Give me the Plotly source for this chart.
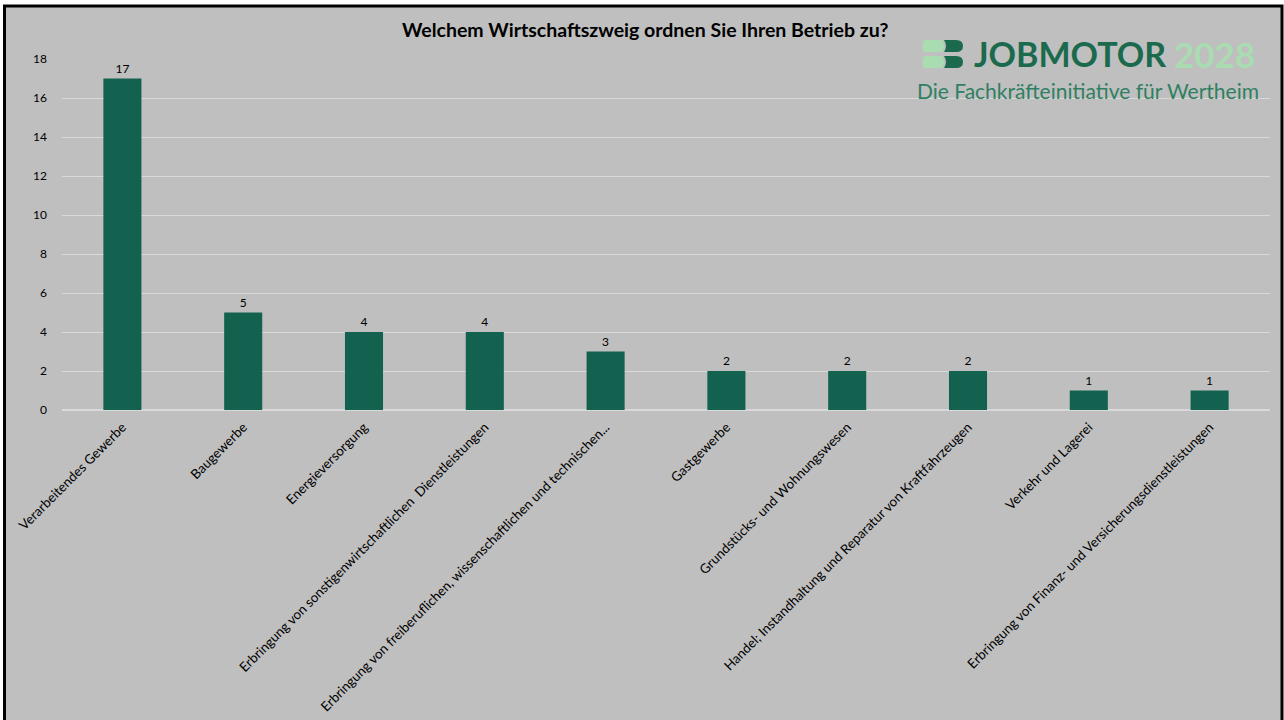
import plotly.graph_objects as go

categories = [
    "Verarbeitendes Gewerbe",
    "Baugewerbe",
    "Energieversorgung",
    "Erbringung von sonstigenwirtschaftlichen  Dienstleistungen",
    "Erbringung von freiberuflichen, wissenschaftlichen und technischen...",
    "Gastgewerbe",
    "Grundstücks- und Wohnungswesen",
    "Handel; Instandhaltung und Reparatur von Kraftfahrzeugen",
    "Verkehr und Lagerei",
    "Erbringung von Finanz- und Versicherungsdienstleistungen",
]
values = [17, 5, 4, 4, 3, 2, 2, 2, 1, 1]
y_ticks = [0, 2, 4, 6, 8, 10, 12, 14, 16, 18]

W, H = 1284, 720
L, R, T, B = 62, 1270, 59, 410

def px(x):
    return (x - L) / (R - L)

def py(y):
    return (B - y) / (B - T)

FONT = "Lato"
DARK = "#12624f"

fig = go.Figure(
    go.Bar(
        x=categories,
        y=values,
        marker=dict(color=DARK, line=dict(width=0)),
        width=0.315,
        text=[str(v) for v in values],
        textposition="outside",
        textfont=dict(family=FONT, size=12, color="#000000"),
        cliponaxis=False,
        hoverinfo="skip",
    )
)

shapes = [
    dict(type="rect", xref="paper", yref="paper",
         x0=px(4.5), x1=px(1282), y0=py(740), y1=py(6),
         fillcolor="#bfbfbf", line=dict(color="#000000", width=3), layer="below"),
]
LIGHT = "#a9dcb0"
for (ya, yb) in [(40, 52), (56, 68)]:
    shapes.append(dict(type="path", xref="paper", yref="paper", layer="above",
                       path=f"M {px(924)},{py(ya)} L {px(942)},{py(ya)} Q {px(946)},{py((ya+yb)/2)} {px(942)},{py(yb)} L {px(924)},{py(yb)} Q {px(921)},{py((ya+yb)/2)} {px(924)},{py(ya)} Z",
                       fillcolor=LIGHT, line=dict(width=0)))
    shapes.append(dict(type="path", xref="paper", yref="paper", layer="above",
                       path=f"M {px(944)},{py(ya)} L {px(956)},{py(ya)} Q {px(963)},{py(ya)} {px(963)},{py((ya+yb)/2)} Q {px(963)},{py(yb)} {px(956)},{py(yb)} L {px(944)},{py(yb)} Q {px(948)},{py((ya+yb)/2)} {px(944)},{py(ya)} Z",
                       fillcolor="#1b6a4e", line=dict(width=0)))

annotations = [
    dict(text="<b>Welchem Wirtschaftszweig ordnen Sie Ihren Betrieb zu?</b>",
         xref="paper", yref="paper", x=px(645), y=py(30), xanchor="center", yanchor="middle",
         showarrow=False, font=dict(family=FONT, size=19.5, color="#000000")),
    dict(text="<b>JOBMOTOR</b>",
         xref="paper", yref="paper", x=px(1168), y=py(54), xanchor="right", yanchor="middle",
         showarrow=False, font=dict(family=FONT, size=34, color="#1b6a4e")),
    dict(text="<b>2028</b>",
         xref="paper", yref="paper", x=px(1172), y=py(54), xanchor="left", yanchor="middle",
         showarrow=False, font=dict(family=FONT, size=35, color="#a9dcb0")),
    dict(text="Die Fachkräfteinitiative für Wertheim",
         xref="paper", yref="paper", x=px(1261), y=py(90), xanchor="right", yanchor="middle",
         showarrow=False, font=dict(family=FONT, size=21, color="#2f8062")),
]

fig.update_layout(
    width=W, height=H,
    margin=dict(l=L, r=W - R, t=T, b=H - B, pad=0),
    paper_bgcolor="#ffffff",
    plot_bgcolor="rgba(0,0,0,0)",
    showlegend=False,
    bargap=0.685,
    shapes=shapes,
    annotations=annotations,
    hovermode=False,
    font=dict(family=FONT, color="#000000"),
    xaxis=dict(
        tickangle=-45,
        tickfont=dict(family=FONT, size=13.3, color="#000000"),
        showgrid=False, zeroline=False, showline=False, ticks="",
        automargin=False, ticklabelstandoff=6,
        fixedrange=True,
    ),
    yaxis=dict(
        range=[0, 18],
        tickvals=y_ticks,
        ticktext=[str(v) for v in y_ticks],
        tickfont=dict(family=FONT, size=12, color="#000000"),
        showgrid=True, gridcolor="#d9d9d9", gridwidth=1,
        zeroline=True, zerolinecolor="#d9d9d9", zerolinewidth=1.5,
        showline=False, ticks="", ticklabelstandoff=14,
        automargin=False,
        fixedrange=True,
    ),
)

fig.write_html("out.html", config={"displayModeBar": False},
               post_script="document.body.style.margin='0';document.body.style.overflow='hidden';")
